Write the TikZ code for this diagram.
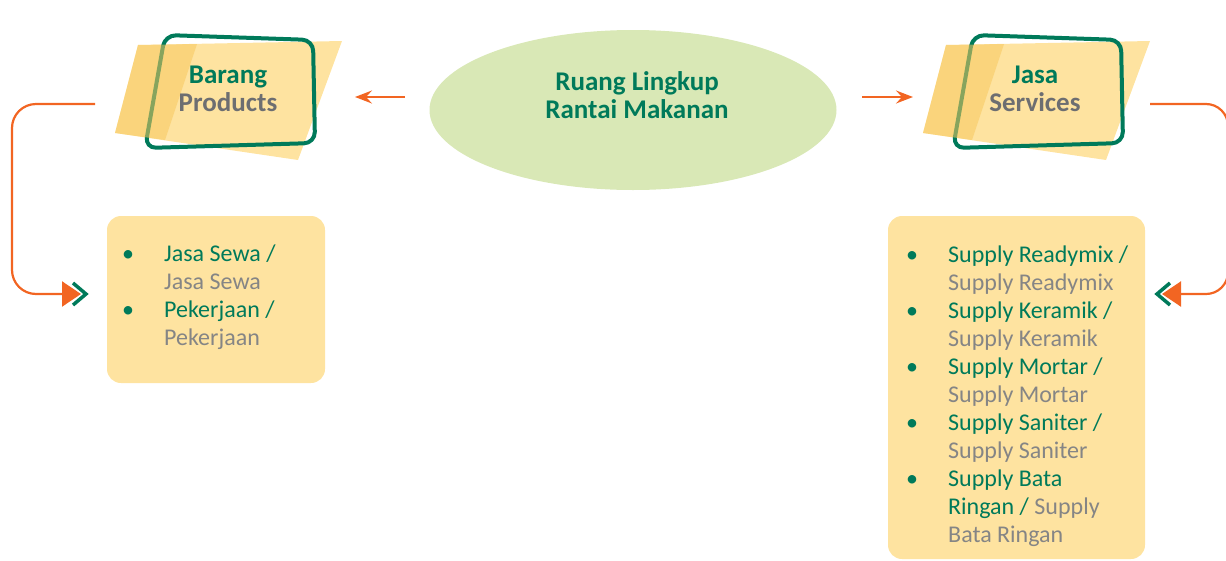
\documentclass[tikz,border=0pt]{standalone}
\usepackage{fontspec}
\setmainfont{Carlito}
\usetikzlibrary{arrows.meta,shapes.geometric,calc}
\definecolor{dgreen}{HTML}{007A5A}
\definecolor{tgray}{HTML}{6D6E71}
\definecolor{lgray}{HTML}{858585}
\definecolor{flame}{HTML}{F26522}
\definecolor{cardyellow}{HTML}{FEE3A0}
\definecolor{stripyellow}{HTML}{F7C860}
\definecolor{ovalgreen}{HTML}{D9E8B6}
\tikzset{
  card/.style={fill=cardyellow},
  frame/.style={draw=dgreen, line width=4pt, rounded corners=11pt},
  strip/.style={fill=stripyellow, fill opacity=0.55},
  title/.style={font=\bfseries\fontsize{27}{28}\selectfont, align=center, inner sep=0pt},
  flow/.style={draw=flame, line width=2.2pt},
  flowtip/.style={flow, -{Stealth[length=17pt,width=13pt,inset=6pt]}},
  endtip/.style={flow, -{Triangle[length=19pt,width=25pt]}},
  chevron/.style={draw=dgreen, line width=3.5pt, miter limit=10},
  listbox/.style={fill=cardyellow, rounded corners=14pt, draw=none},
  listtext/.style={inner sep=0pt, anchor=base west, font=\fontsize{24}{28}\selectfont},
}
\newcommand\bul{\makebox[36pt][l]{\makebox[0pt]{\textcolor{dgreen}{\textbullet}}}}
\newcommand\gr[1]{\textcolor{dgreen}{#1}}
\newcommand\gy[1]{\textcolor{lgray}{#1}}
\begin{document}
\begin{tikzpicture}[x=1pt,y=-1pt]
\clip (0,0) rectangle (1226,560);

% central oval
\node[ellipse, fill=ovalgreen, minimum width=407pt, minimum height=160pt, inner sep=0pt] (ruang) at (633,110) {};
\node[title, text=dgreen] (ruangtxt) at (637,95) {Ruang Lingkup\\Rantai Makanan};

% left card: Barang / Products
\fill[card] (138,45) -- (342,41) -- (298,160) -- (115,133) -- cycle;
\draw[frame] (165,35) -- (313,40) -- (315,143) -- (145,148) -- cycle;
\fill[strip] (138,45) -- (197,44) -- (165,140) -- (115,133) -- cycle;
\node[title] (barang) at (228,89) {\textcolor{dgreen}{Barang}\\\textcolor{tgray}{Products}};

% right card: Jasa / Services
\fill[card] (946,45) -- (1150,41) -- (1106,160) -- (923,133) -- cycle;
\draw[frame] (973,35) -- (1121,40) -- (1123,143) -- (953,148) -- cycle;
\fill[strip] (946,45) -- (1004,44) -- (972,140) -- (923,133) -- cycle;
\node[title] (jasa) at (1035,89) {\textcolor{dgreen}{Jasa}\\\textcolor{tgray}{Services}};

% arrows from the oval to the cards
\coordinate (la1) at (405,97); \coordinate (la2) at (355,97);
\coordinate (ra1) at (862,97); \coordinate (ra2) at (913,97);
\draw[flowtip] (la1) -- (la2);
\draw[flowtip] (ra1) -- (ra2);

% list boxes
\node[listbox, minimum width=218pt, minimum height=167pt, inner sep=0pt] (boxa) at (216,299.5) {};
\node[listbox, minimum width=257pt, minimum height=343pt, inner sep=0pt] (boxb) at (1016.5,387.5) {};

\node[listtext] (lista) at (128,261) {\begin{tabular}[t]{@{}l@{}l@{}}
\bul & \gr{Jasa Sewa /}\\
     & \gy{Jasa Sewa}\\
\bul & \gr{Pekerjaan /}\\
     & \gy{Pekerjaan}
\end{tabular}};

\node[listtext] (listb) at (912,262) {\begin{tabular}[t]{@{}l@{}l@{}}
\bul & \gr{Supply Readymix /}\\
     & \gy{Supply Readymix}\\
\bul & \gr{Supply Keramik /}\\
     & \gy{Supply Keramik}\\
\bul & \gr{Supply Mortar /}\\
     & \gy{Supply Mortar}\\
\bul & \gr{Supply Saniter /}\\
     & \gy{Supply Saniter}\\
\bul & \gr{Supply Bata}\\
     & \gr{Ringan /} \gy{Supply}\\
     & \gy{Bata Ringan}
\end{tabular}};

% left connector: Barang -> list
\coordinate (lc0) at (95,104);
\coordinate (lc1) at (81,294);
\draw[chevron] (73,283) -- (86,294) -- (73,305);
\draw[endtip, rounded corners=24pt] (lc0) -- (12,104) -- (12,294) -- (lc1);

% right connector: Jasa -> list
\coordinate (rc0) at (1150,104);
\coordinate (rc1) at (1162,294);
\draw[chevron] (1170,283) -- (1157,294) -- (1170,305);
\draw[endtip, rounded corners=22pt] (rc0) -- (1228,104) -- (1228,294) -- (rc1);
\end{tikzpicture}
\end{document}
